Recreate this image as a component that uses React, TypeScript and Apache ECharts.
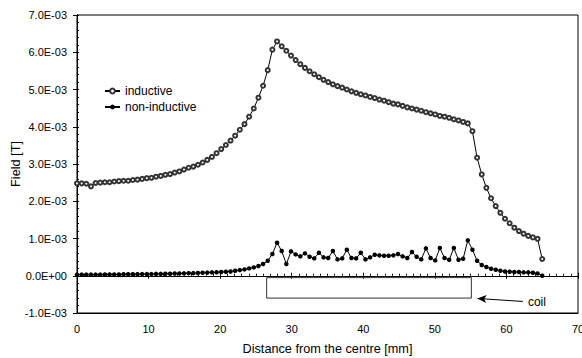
import { useEffect, useRef } from "react";
import * as echarts from "echarts";

// Distance from the centre [mm] (sampling positions)
const DISTANCE_MM = [
  0, 0.65, 1.3, 1.95, 2.6, 3.25, 3.9, 4.55, 5.2, 5.85,
  6.5, 7.15, 7.8, 8.45, 9.1, 9.75, 10.4, 11.05, 11.7, 12.35,
  13, 13.65, 14.3, 14.95, 15.6, 16.25, 16.9, 17.55, 18.2, 18.85,
  19.5, 20.15, 20.8, 21.45, 22.1, 22.75, 23.4, 24.05, 24.7, 25.35,
  26, 26.65, 27.3, 27.95, 28.6, 29.25, 29.9, 30.55, 31.2, 31.85,
  32.5, 33.15, 33.8, 34.45, 35.1, 35.75, 36.4, 37.05, 37.7, 38.35,
  39, 39.65, 40.3, 40.95, 41.6, 42.25, 42.9, 43.55, 44.2, 44.85,
  45.5, 46.15, 46.8, 47.45, 48.1, 48.75, 49.4, 50.05, 50.7, 51.35,
  52, 52.65, 53.3, 53.95, 54.6, 55.25, 55.9, 56.55, 57.2, 57.85,
  58.5, 59.15, 59.8, 60.45, 61.1, 61.75, 62.4, 63.05, 63.7, 64.35,
  65,
];

// Field, in units of 1E-03 T
const INDUCTIVE_MT = [
  2.48, 2.48, 2.47, 2.4, 2.49, 2.5, 2.51, 2.51, 2.53, 2.54,
  2.55, 2.55, 2.57, 2.58, 2.6, 2.62, 2.63, 2.66, 2.68, 2.71,
  2.73, 2.77, 2.8, 2.85, 2.9, 2.93, 2.98, 3.04, 3.11, 3.19,
  3.29, 3.4, 3.51, 3.63, 3.76, 3.92, 4.07, 4.27, 4.49, 4.78,
  5.1, 5.52, 6.07, 6.29, 6.16, 6.04, 5.91, 5.79, 5.68, 5.58,
  5.49, 5.41, 5.33, 5.26, 5.2, 5.14, 5.09, 5.05, 5.0, 4.95,
  4.91, 4.87, 4.84, 4.8, 4.77, 4.73, 4.7, 4.66, 4.62, 4.6,
  4.56, 4.52, 4.49, 4.46, 4.43, 4.39, 4.36, 4.33, 4.29, 4.27,
  4.24, 4.2, 4.17, 4.13, 4.09, 3.88, 3.17, 2.72, 2.36, 2.08,
  1.87, 1.69, 1.53, 1.41, 1.29, 1.2, 1.13, 1.07, 1.03, 0.99,
  0.45,
];

const NON_INDUCTIVE_MT = [
  0.03, 0.03, 0.03, 0.03, 0.03, 0.03, 0.035, 0.035, 0.035, 0.035,
  0.04, 0.04, 0.04, 0.04, 0.045, 0.045, 0.045, 0.05, 0.05, 0.055,
  0.055, 0.06, 0.06, 0.065, 0.07, 0.07, 0.075, 0.08, 0.085, 0.09,
  0.095, 0.1, 0.108, 0.116, 0.134, 0.152, 0.17, 0.197, 0.224, 0.26,
  0.314, 0.403, 0.582, 0.887, 0.663, 0.314, 0.654, 0.573, 0.52, 0.6,
  0.511, 0.466, 0.618, 0.493, 0.475, 0.663, 0.439, 0.466, 0.699, 0.475,
  0.466, 0.618, 0.439, 0.493, 0.565, 0.547, 0.538, 0.538, 0.547, 0.582,
  0.52, 0.475, 0.636, 0.511, 0.439, 0.735, 0.475, 0.412, 0.744, 0.475,
  0.43, 0.744, 0.43, 0.457, 0.95, 0.699, 0.403, 0.287, 0.233, 0.188,
  0.161, 0.134, 0.116, 0.108, 0.099, 0.099, 0.09, 0.09, 0.081, 0.063,
  0,
];

// Coil outline (mm, 1E-03 T) and the pointer arrow
const COIL_X = [26.5, 55.1, 55.1, 26.5, 26.5];
const COIL_Y = [-0.05, -0.05, -0.6, -0.6, -0.05];
const ARROW_FROM = [62.3, -0.69];
const ARROW_TO = [55.95, -0.61];

const X_MIN = 0, X_MAX = 70, X_INTERVAL = 10;
const Y_MIN = -1, Y_MAX = 7, Y_INTERVAL = 1;

const FONT = "'Liberation Sans', Arial, Helvetica, sans-serif";
const TXT = { color: "#000", fontSize: 11, fontFamily: FONT };
const TXT_BIG = { color: "#000", fontSize: 12, fontFamily: FONT };
const TXT_NAME = { color: "#000", fontSize: 12.7, fontFamily: FONT };

function fmtY(v: number): string {
  if (Math.abs(v) < 1e-9) return "0.0E+00";
  const s = (v * 1e-3).toExponential(1); // e.g. 7.0e-3
  return s.replace(/e([+-])(\d)$/, "E$10$2").replace("e", "E");
}

export default function App() {
  const ref = useRef<HTMLDivElement>(null);
  useEffect(() => {
    if (!ref.current) return;
    const chart = echarts.init(ref.current, undefined, { renderer: "svg" });
    const black = { color: "#000", width: 1 };
    const baseX = { type: "value", min: X_MIN, max: X_MAX, interval: X_INTERVAL, position: "bottom", splitLine: { show: false } };
    const baseY = { type: "value", min: Y_MIN, max: Y_MAX, interval: Y_INTERVAL, position: "left", splitLine: { show: false } };
    chart.setOption({
      animation: false,
      backgroundColor: "#fff",
      textStyle: { fontFamily: FONT },
      grid: {
        left: 77, right: 4, top: 15, bottom: 45,
        outerBoundsMode: "none", containLabel: false,
        show: true, borderColor: "#000", borderWidth: 1, backgroundColor: "#fff",
      },
      legend: {
        data: ["inductive", "non-inductive"],
        orient: "vertical",
        left: 99,
        top: 80,
        itemWidth: 15,
        itemHeight: 6,
        itemGap: 4,
        textStyle: { ...TXT_BIG },
      },
      xAxis: [
        {
          ...baseX,
          axisLine: { onZero: false, lineStyle: black },
          axisTick: { show: false },
          axisLabel: { ...TXT, margin: 10 },
          name: "Distance from the centre [mm]",
          nameLocation: "middle",
          nameGap: 29,
          nameMoveOverlap: false,
          nameTextStyle: { ...TXT_NAME },
        },
        {
          ...baseX,
          axisLine: { onZero: true, onZeroAxisIndex: 0, lineStyle: black },
          axisTick: { show: true, inside: true, length: 3, lineStyle: black },
          minorTick: { show: true, splitNumber: 10, length: 2, lineStyle: black },
          axisLabel: { show: false },
        },
        {
          ...baseX,
          axisLine: { onZero: true, onZeroAxisIndex: 0, lineStyle: black },
          axisTick: { show: true, inside: false, length: 3, lineStyle: black },
          axisLabel: { show: false },
        },
      ],
      yAxis: [
        {
          ...baseY,
          axisLine: { onZero: false, lineStyle: black },
          axisTick: { show: true, inside: false, length: 4, lineStyle: black },
          axisLabel: { ...TXT, margin: 10, formatter: fmtY },
          name: "Field [T]",
          nameLocation: "middle",
          nameGap: 55,
          nameMoveOverlap: false,
          nameRotate: 90,
          nameTextStyle: { ...TXT_NAME },
        },
        {
          ...baseY,
          axisLine: { onZero: false, lineStyle: black },
          axisTick: { show: true, inside: true, length: 2, lineStyle: black },
          minorTick: { show: true, splitNumber: 5, length: 2, lineStyle: black },
          axisLabel: { show: false },
        },
      ],
      series: [
        {
          name: "inductive",
          type: "line",
          xAxisIndex: 0,
          yAxisIndex: 0,
          data: DISTANCE_MM.map((x, i) => [x, INDUCTIVE_MT[i]]),
          symbol: "emptyCircle",
          symbolSize: 4,
          showAllSymbol: true,
          lineStyle: { color: "#000", width: 1 },
          itemStyle: { color: "#333", borderWidth: 1 },
          z: 4,
        },
        {
          name: "non-inductive",
          type: "line",
          xAxisIndex: 0,
          yAxisIndex: 0,
          data: DISTANCE_MM.map((x, i) => [x, NON_INDUCTIVE_MT[i]]),
          symbol: "circle",
          symbolSize: 4.5,
          showAllSymbol: true,
          lineStyle: { color: "#000", width: 1 },
          itemStyle: { color: "#000" },
          z: 4,
        },
        {
          name: "coil",
          type: "line",
          xAxisIndex: 0,
          yAxisIndex: 0,
          data: COIL_X.map((x, i) => [x, COIL_Y[i]]),
          symbol: "none",
          lineStyle: { color: "#333", width: 1 },
          z: 3,
          markLine: {
            silent: true,
            symbol: ["none", "arrow"],
            symbolSize: [6, 9],
            lineStyle: { color: "#000", width: 1, type: "solid" },
            label: { show: true, position: "start", formatter: "coil", distance: 5, ...TXT_BIG },
            data: [[{ coord: ARROW_FROM }, { coord: ARROW_TO }]],
          },
        },
      ],
    });
    return () => chart.dispose();
  }, []);
  return <div ref={ref} style={{ position: "fixed", left: 0, top: 0, width: 582, height: 358 }} />;
}
